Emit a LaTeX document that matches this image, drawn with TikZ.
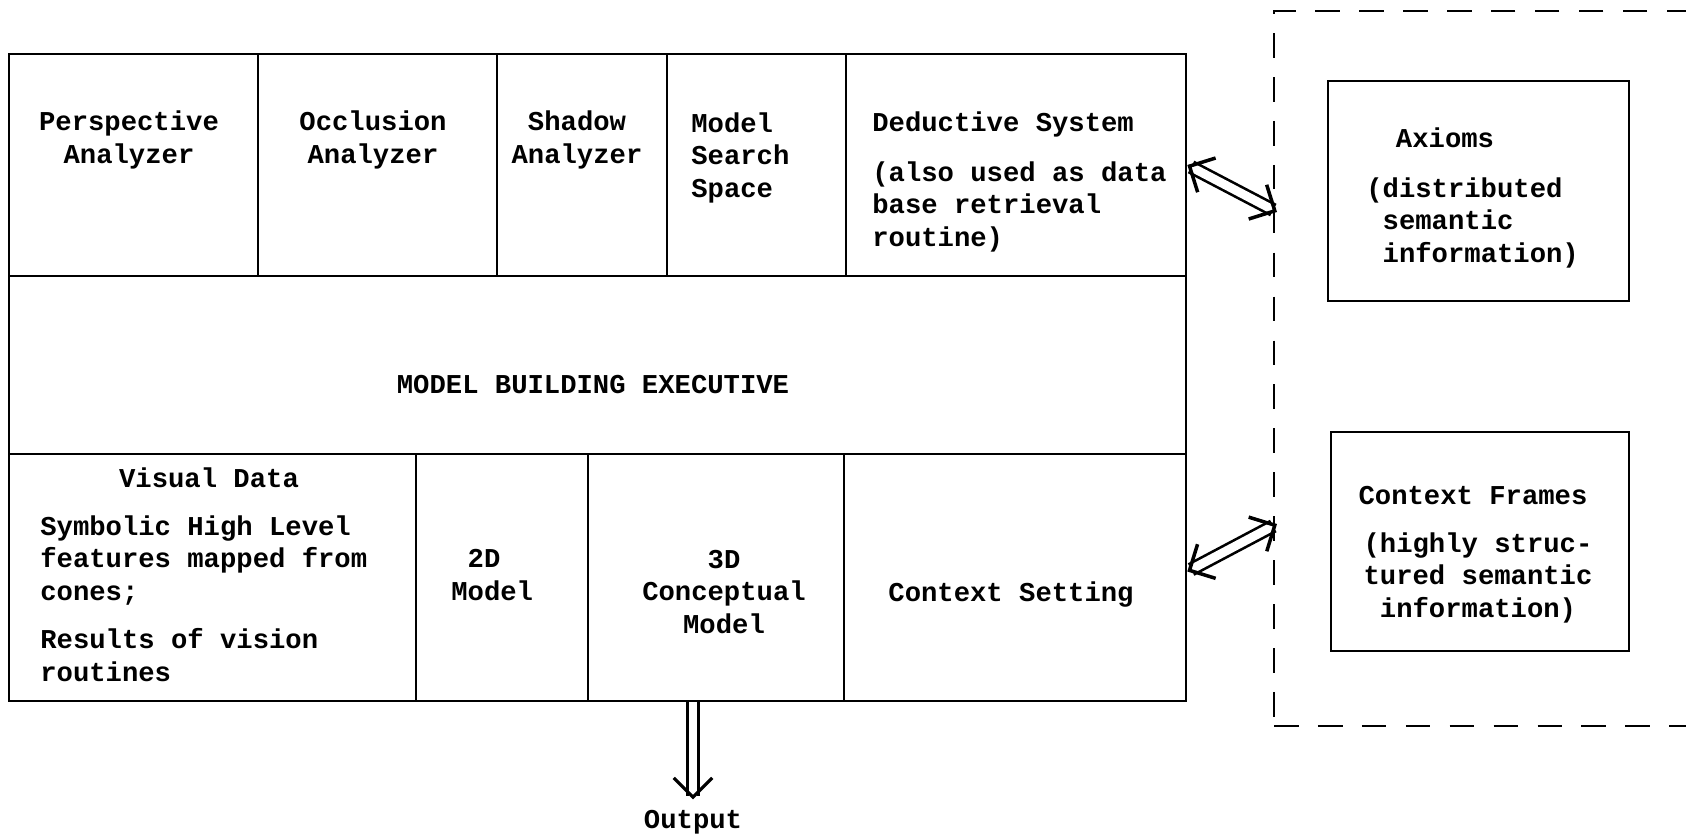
\documentclass[tikz,border=0pt]{standalone}
\usepackage{fontspec}
\setmonofont{Liberation Mono}
\usetikzlibrary{positioning, arrows.meta, fit}

\begin{document}
\begin{tikzpicture}[
    x=0.02cm, y=-0.02cm,
    every node/.style={font=\ttfamily\bfseries\fontsize{15.5}{18.4}\selectfont},
    cell/.style={rectangle, draw=black, line width=1.5pt, inner sep=0pt},
    kbframe/.style={rectangle, draw=black, line width=1.3pt, inner sep=0pt,
        dash pattern=on 14pt off 11pt},
    txt/.style={inner sep=0pt, align=center, anchor=base},
    txtl/.style={inner sep=0pt, align=left, anchor=base west},
    dblarrow/.style={double, double distance=5pt, line width=1.5pt,
        {Straight Barb[length=11pt, width=22pt, line width=2pt]}-{Straight Barb[length=11pt, width=22pt, line width=2pt]}},
    outarrow/.style={double, double distance=5pt, line width=1.4pt,
        -{Straight Barb[length=11pt, width=22pt, line width=1.8pt]}}
]
\useasboundingbox (0,0) rectangle (1686,835);

% top row: the analyzers
\node[cell, fit={(9,54) (258,276)}] (persp) {};
\node[cell, fit={(258,54) (497,276)}] (occl) {};
\node[cell, fit={(497,54) (667,276)}] (shadow) {};
\node[cell, fit={(667,54) (846,276)}] (search) {};
\node[cell, fit={(846,54) (1186,276)}] (deduct) {};

% executive band
\node[cell, fit={(9,276) (1186,454)}] (exec) {};

% bottom row: data and models
\node[cell, fit={(9,454) (416,701)}] (visual) {};
\node[cell, fit={(416,454) (588,701)}] (model2d) {};
\node[cell, fit={(588,454) (844,701)}] (model3d) {};
\node[cell, fit={(844,454) (1186,701)}] (ctxset) {};

% knowledge base on the right
\node[kbframe, fit={(1274,11) (1740,726)}] (kb) {};
\node[cell, fit={(1328,81) (1629,301)}] (axioms) {};
\node[cell, fit={(1331,432) (1629,651)}] (frames) {};

% labels (base = last line)
\node[txt] at (129,163) {Perspective\\Analyzer};
\node[txt] at (373,163) {Occlusion\\Analyzer};
\node[txt] at (577,163) {Shadow\\Analyzer};
\node[txtl] at (691,197) {Model\\Search\\Space};
\node[txtl] at (872,131) {Deductive System};
\node[txtl] at (872,246) {(also used as data\\base retrieval\\routine)};

\node[txt] at (593,393) {MODEL BUILDING EXECUTIVE};

\node[txt] at (209,487) {Visual Data};
\node[txtl] at (40,600) {Symbolic High Level\\features mapped from\\cones;};
\node[txtl] at (40,681) {Results of vision\\routines};
\node[txtl] at (451,600) {\hphantom{M}2D\\Model};
\node[txt] at (724,633) {3D\\Conceptual\\Model};
\node[txt] at (1011,601) {Context Setting};

\node[txt] at (1445,147) {Axioms};
\node[txtl] at (1366,262) {(distributed\\\hphantom{(}semantic\\\hphantom{(}information)};
\node[txt] at (1473,504) {Context Frames};
\node[txt] at (1478,617) {(highly struc-\\tured semantic\\information)};

\node[txt] (out) at (693,828) {Output};

% connectors
\coordinate (kbaxioms) at (1277,212);
\coordinate (kbframes) at (1277,524);
\draw[dblarrow] (deduct.east) -- (kbaxioms);
\draw[dblarrow] ([yshift=0.12cm]ctxset.east) -- (kbframes);
\draw[outarrow] (out.north |- model3d.south) -- ([yshift=0.2cm]out.north);

\end{tikzpicture}
\end{document}
